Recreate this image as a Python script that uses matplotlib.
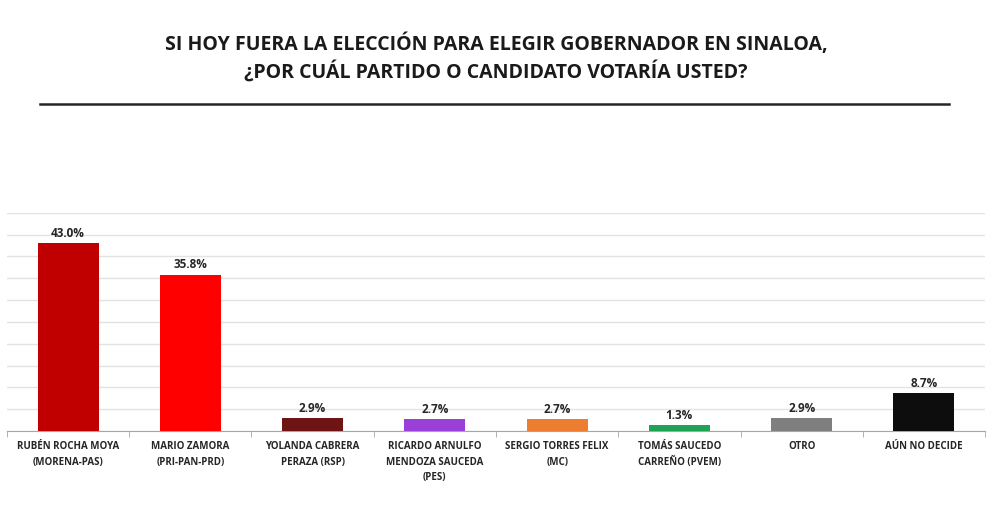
import numpy as np
import matplotlib.pyplot as plt

plt.rcParams['font.family'] = ['Open Sans', 'DejaVu Sans']

candidatos = ['RUBÉN ROCHA MOYA\n(MORENA-PAS)', 'MARIO ZAMORA\n(PRI-PAN-PRD)',
              'YOLANDA CABRERA\nPERAZA (RSP)', 'RICARDO ARNULFO\nMENDOZA SAUCEDA\n(PES)',
              'SERGIO TORRES FELIX\n(MC)', 'TOMÁS SAUCEDO\nCARREÑO (PVEM)',
              'OTRO', 'AÚN NO DECIDE']
porcentajes = [43.0, 35.8, 2.9, 2.7, 2.7, 1.3, 2.9, 8.7]
colores = ['#C00000', '#FF0000', '#6E1414', '#9B3FD9', '#ED7D31', '#1FA356', '#7F7F7F', '#0D0D0D']

fig = plt.figure(figsize=(9.92, 5.2), dpi=100)
ax = fig.add_axes([0.007, 0.171, 0.986, 0.42])

x = np.arange(len(candidatos))
ax.bar(x, porcentajes, width=0.5, color=colores, zorder=3)
for xi, v in zip(x, porcentajes):
    ax.text(xi, v + 0.8, '%.1f%%' % v, ha='center', va='bottom',
            fontsize=8.5, fontweight='bold', color='#262626')

ax.set_xlim(-0.5, len(candidatos) - 0.5)
ax.set_ylim(0, 50)
ax.set_yticks(np.arange(0, 51, 5))
ax.set_yticklabels([])
ax.tick_params(axis='y', length=0)
ax.grid(axis='y', color='#E3E3E3', linewidth=1, zorder=0)
for s in ['top', 'right', 'left']:
    ax.spines[s].set_visible(False)
ax.spines['bottom'].set_color('#A6A6A6')

ax.set_xticks(x)
ax.set_xticklabels(candidatos, fontsize=7, fontweight='bold', color='#262626', linespacing=1.6)
ax.tick_params(axis='x', length=0, pad=7)
ax.set_xticks(np.arange(-0.5, len(candidatos)), minor=True)
ax.tick_params(axis='x', which='minor', length=4, color='#A6A6A6')

fig.text(0.5, 0.915, 'SI HOY FUERA LA ELECCIÓN PARA ELEGIR GOBERNADOR EN SINALOA,',
         ha='center', va='center', fontsize=14, fontweight='bold', color='#1A1A1A')
fig.text(0.5, 0.862, '¿POR CUÁL PARTIDO O CANDIDATO VOTARÍA USTED?',
         ha='center', va='center', fontsize=14, fontweight='bold', color='#1A1A1A')
fig.add_artist(plt.Line2D([0.04, 0.957], [0.8, 0.8], color='#262626', linewidth=1.8))

plt.savefig('out.png', dpi=100)
